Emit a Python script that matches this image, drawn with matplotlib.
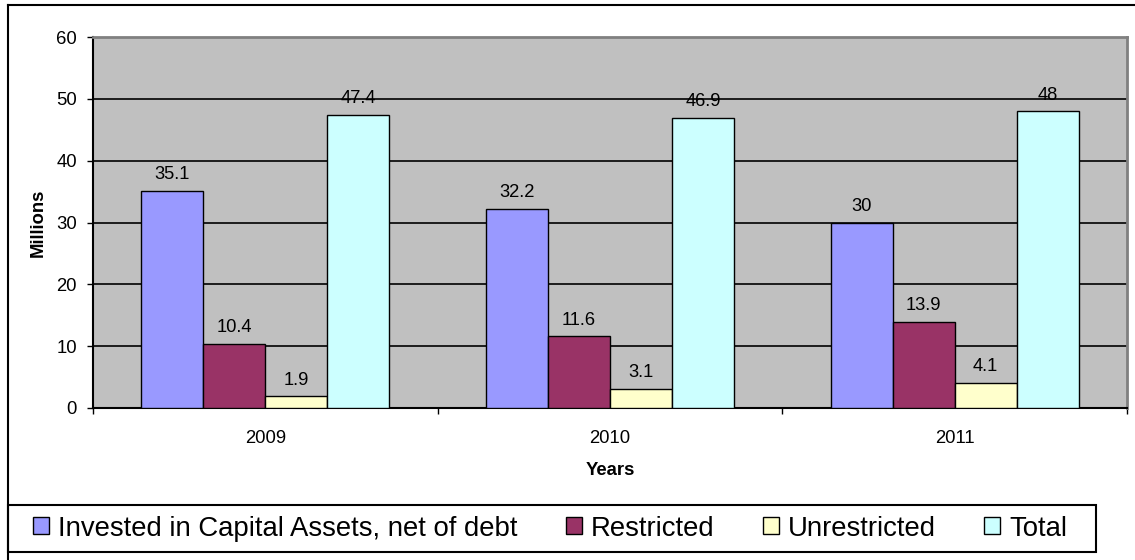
import numpy as np
import matplotlib.pyplot as plt
from matplotlib.lines import Line2D
from matplotlib.patches import Rectangle, Patch

plt.rcParams['font.family'] = ['Liberation Sans', 'DejaVu Sans']

# Net assets by year (millions)
years = ['2009', '2010', '2011']
series = ['Invested in Capital Assets, net of debt', 'Restricted', 'Unrestricted', 'Total']
invested = [35.1, 32.2, 30]
restricted = [10.4, 11.6, 13.9]
unrestricted = [1.9, 3.1, 4.1]
total = [47.4, 46.9, 48]
colors = ['#9999FF', '#993366', '#FFFFCC', '#CCFFFF']

W, H = 1135, 560
fig = plt.figure(figsize=(W / 100, H / 100), dpi=100)
ax = fig.add_axes([93 / W, 1 - 408 / H, (1127 - 93) / W, (408 - 37) / H])
ax.set_facecolor('#C0C0C0')

x = np.arange(len(years))
width = 0.18
offsets = [-1.5 * width, -0.5 * width, 0.5 * width, 1.5 * width]
for vals, off, c in zip([invested, restricted, unrestricted, total], offsets, colors):
    bars = ax.bar(x + off, vals, width, color=c, edgecolor='black', linewidth=1.0, zorder=3)
    for b, v in zip(bars, vals):
        ax.annotate(f'{v:g}', (b.get_x() + b.get_width() / 2, v), xytext=(0, 5.5),
                    textcoords='offset points', ha='center', va='bottom', fontsize=13.2)

ax.set_xlim(-0.5, 2.5)
ax.set_ylim(0, 60)
ax.set_yticks(range(0, 61, 10))
ax.yaxis.grid(True, color='black', linewidth=1.2, zorder=1)
ax.set_axisbelow(True)

ax.set_xticks(x)
ax.set_xticklabels(years)
ax.set_xticks([-0.5, 0.5, 1.5, 2.5], minor=True)
ax.tick_params(axis='x', which='major', length=0, pad=15.5, labelsize=13.3)
ax.tick_params(axis='x', which='minor', length=4, width=1, color='black')
ax.tick_params(axis='y', length=4.5, width=1, pad=7, labelsize=13.3)

ax.set_xlabel('Years', fontsize=13.3, fontweight='bold', labelpad=11)
ax.set_ylabel('Millions', fontsize=13.3, fontweight='bold', labelpad=7)

for side in ['top', 'right']:
    ax.spines[side].set_color('#808080')
    ax.spines[side].set_linewidth(2)
for side in ['left', 'bottom']:
    ax.spines[side].set_color('black')
    ax.spines[side].set_linewidth(1.5)

# chart border (top and left edge)
fig.add_artist(Line2D([8 / W, 1], [1 - 5 / H, 1 - 5 / H], color='black', linewidth=1.5))
fig.add_artist(Line2D([8 / W, 8 / W], [1 - 5 / H, 0], color='black', linewidth=1.5))

# legend box
fig.add_artist(Rectangle((8 / W, 1 - 552 / H), (1096 - 8) / W, 47 / H, transform=fig.transFigure,
                         facecolor='white', edgecolor='black', linewidth=1.5))
handles = [Patch(facecolor=c, edgecolor='black', linewidth=1.0) for c in colors]
fig.legend(handles, series, loc='center left', bbox_to_anchor=(33 / W, 1 - 528.5 / H),
           ncol=4, frameon=False, fontsize=19.8, borderpad=0, borderaxespad=0,
           handlelength=0.58, handleheight=0.58, handletextpad=0.33, columnspacing=1.76)

fig.savefig('out.png', dpi=100)
